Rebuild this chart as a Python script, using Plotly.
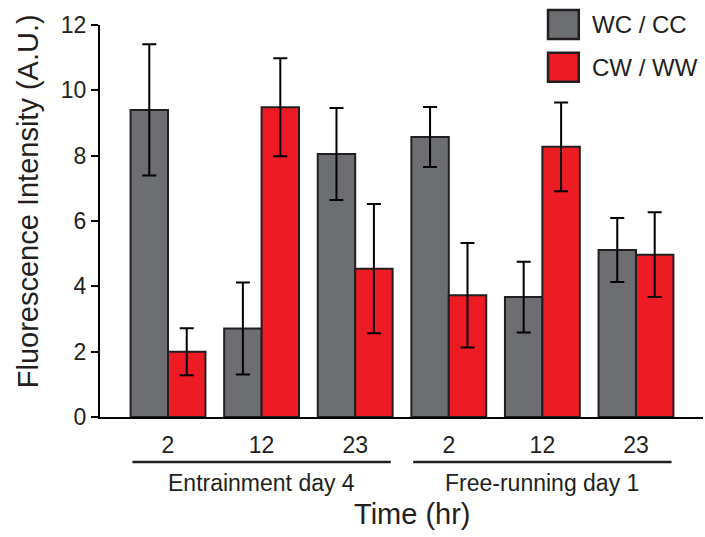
import plotly.graph_objects as go

# ---- data ----
time_labels = ["2", "12", "23", "2", "12", "23"]
group_labels = ["Entrainment day 4", "Free-running day 1"]
series_names = ["WC / CC", "CW / WW"]
wc_cc = [9.40, 2.71, 8.05, 8.57, 3.67, 5.11]
wc_cc_err = [2.01, 1.41, 1.41, 0.92, 1.08, 0.98]
cw_ww = [2.00, 9.48, 4.54, 3.73, 8.27, 4.97]
cw_ww_err = [0.72, 1.50, 1.98, 1.60, 1.36, 1.30]

xpos = list(range(len(time_labels)))
FONT = "Liberation Sans, Arial, sans-serif"
GRAY = "#6d6e71"
RED = "#ed1c24"
EDGE = "#231f20"

fig = go.Figure()
for name, vals, errs, col in [(series_names[0], wc_cc, wc_cc_err, GRAY),
                              (series_names[1], cw_ww, cw_ww_err, RED)]:
    fig.add_trace(go.Bar(
        x=xpos, y=vals, name=name,
        marker=dict(color=col, line=dict(color=EDGE, width=2)),
        error_y=dict(type="data", array=errs, visible=True,
                     color="black", thickness=2, width=7),
        showlegend=False,
    ))

fig.update_layout(
    width=705, height=537, autosize=False,
    margin=dict(l=100, r=2, t=25, b=120),
    paper_bgcolor="white", plot_bgcolor="white",
    barmode="group", bargap=0.2, bargroupgap=0,
    font=dict(family=FONT, color="#231f20"),
)
fig.update_yaxes(range=[0, 12], dtick=2, showline=True, linewidth=2,
                 linecolor="black", ticks="outside", ticklen=7, tickwidth=2,
                 tickcolor="black", tickfont=dict(size=23, family=FONT),
                 showgrid=False, zeroline=False)
fig.update_xaxes(range=[-0.7265, 5.716], showline=True, linewidth=2,
                 linecolor="black", ticks="", tickvals=xpos,
                 ticktext=time_labels, tickfont=dict(size=23, family=FONT),
                 showgrid=False, zeroline=False, ticklabelstandoff=6)

# group brackets and labels
for gi, g in enumerate(group_labels):
    c = 1 + 3 * gi
    fig.add_shape(type="line", xref="x", yref="paper",
                  x0=c - 1.38, x1=c + 1.38, y0=-0.115, y1=-0.115,
                  line=dict(color="#231f20", width=2.5))
    fig.add_annotation(x=c, y=-0.168, xref="x", yref="paper", text=g,
                       showarrow=False, yanchor="middle",
                       font=dict(size=23, family=FONT))

fig.add_annotation(x=0.519, y=-0.247, xref="paper", yref="paper",
                   text="Time (hr)", showarrow=False, yanchor="middle",
                   font=dict(size=29, family=FONT))
fig.add_annotation(x=-0.119, y=0.551, xref="paper", yref="paper",
                   text="Fluorescence Intensity (A.U.)", textangle=-90,
                   showarrow=False, xanchor="center", yanchor="middle",
                   font=dict(size=29, family=FONT))

# legend drawn manually
for i, (name, col) in enumerate([(series_names[0], GRAY), (series_names[1], RED)]):
    y1 = 1.038 - i * 0.109
    fig.add_shape(type="rect", xref="paper", yref="paper",
                  x0=0.743, x1=0.794, y0=y1 - 0.074, y1=y1,
                  fillcolor=col, line=dict(color=EDGE, width=2.5))
    fig.add_annotation(x=0.812, y=y1 - 0.037, xref="paper", yref="paper",
                       text=name, showarrow=False, xanchor="left",
                       yanchor="middle", font=dict(size=24, family=FONT))

fig.write_html("out.html")
